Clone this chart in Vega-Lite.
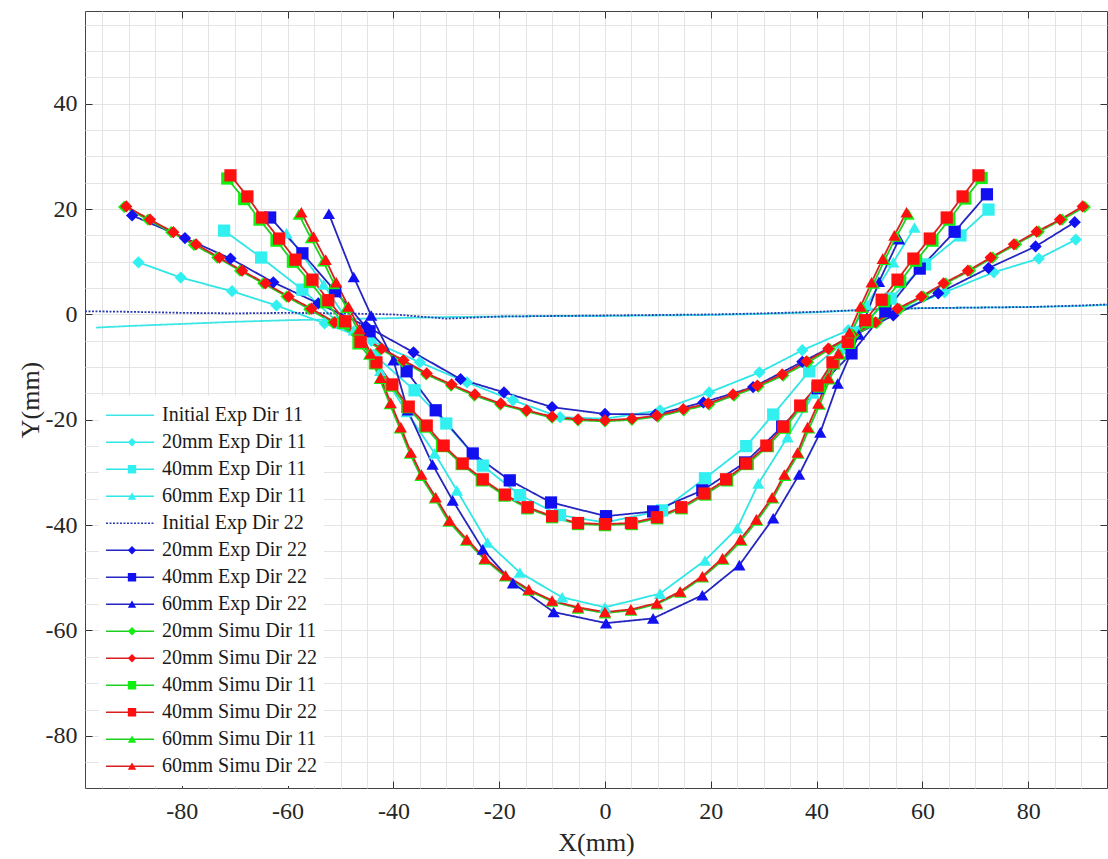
{
 "$schema": "https://vega.github.io/schema/vega-lite/v6.json",
 "width": 1022, "height": 777,
 "autosize": {"type": "none"},
 "padding": {"left": 85, "top": 11, "right": 1, "bottom": 71},
 "background": "white",
 "config": {"view": {"stroke": "#444", "strokeWidth": 1}, "font": "Liberation Serif",
   "axis": {"labelFont": "Liberation Serif", "titleFont": "Liberation Serif", "labelColor": "#262626", "titleColor": "#262626", "titleFontWeight": "normal", "labelFontSize": 24, "titleFontSize": 26, "labelOverlap": false, "labelFlush": false, "tickColor": "#333", "domainColor": "#444"},
   "legend": {"labelFont": "Liberation Serif"}},
 "data": {"name": "d"},
 "datasets": {"d": [
  {"series":"Initial Exp Dir 11","x":-96.2,"y":-2.5},{"series":"Initial Exp Dir 11","x":-90,"y":-2.2},{"series":"Initial Exp Dir 11","x":-80,"y":-1.8},{"series":"Initial Exp Dir 11","x":-70,"y":-1.4},{"series":"Initial Exp Dir 11","x":-60,"y":-1.1},{"series":"Initial Exp Dir 11","x":-50,"y":-0.9},{"series":"Initial Exp Dir 11","x":-40,"y":-0.7},{"series":"Initial Exp Dir 11","x":-30,"y":-0.5},{"series":"Initial Exp Dir 11","x":-20,"y":-0.4},{"series":"Initial Exp Dir 11","x":-10,"y":-0.3},{"series":"Initial Exp Dir 11","x":0,"y":-0.3},{"series":"Initial Exp Dir 11","x":10,"y":-0.2},{"series":"Initial Exp Dir 11","x":20,"y":-0.1},{"series":"Initial Exp Dir 11","x":30,"y":0.1},{"series":"Initial Exp Dir 11","x":40,"y":0.4},{"series":"Initial Exp Dir 11","x":50,"y":0.9},{"series":"Initial Exp Dir 11","x":60,"y":1.2},{"series":"Initial Exp Dir 11","x":70,"y":1.3},{"series":"Initial Exp Dir 11","x":80,"y":1.4},{"series":"Initial Exp Dir 11","x":90,"y":1.6},{"series":"Initial Exp Dir 11","x":94.9,"y":1.8},

  {"series":"20mm Exp Dir 11","x":-88.2,"y":9.9},{"series":"20mm Exp Dir 11","x":-80.2,"y":7.0},{"series":"20mm Exp Dir 11","x":-70.5,"y":4.4},{"series":"20mm Exp Dir 11","x":-62.1,"y":1.7},{"series":"20mm Exp Dir 11","x":-53.0,"y":-1.7},{"series":"20mm Exp Dir 11","x":-44.2,"y":-5.0},{"series":"20mm Exp Dir 11","x":-35.0,"y":-9.1},{"series":"20mm Exp Dir 11","x":-26.1,"y":-12.9},{"series":"20mm Exp Dir 11","x":-17.4,"y":-16.3},{"series":"20mm Exp Dir 11","x":-8.5,"y":-19.5},{"series":"20mm Exp Dir 11","x":0,"y":-19.8},{"series":"20mm Exp Dir 11","x":10.4,"y":-18.2},{"series":"20mm Exp Dir 11","x":19.7,"y":-14.8},{"series":"20mm Exp Dir 11","x":29.2,"y":-11.0},{"series":"20mm Exp Dir 11","x":37.3,"y":-6.8},{"series":"20mm Exp Dir 11","x":46.0,"y":-3.0},{"series":"20mm Exp Dir 11","x":55.0,"y":0.5},{"series":"20mm Exp Dir 11","x":64.2,"y":4.2},{"series":"20mm Exp Dir 11","x":73.5,"y":8.0},{"series":"20mm Exp Dir 11","x":82.0,"y":10.6},{"series":"20mm Exp Dir 11","x":89.0,"y":14.2},

  {"series":"40mm Exp Dir 11","x":-72.0,"y":15.9},{"series":"40mm Exp Dir 11","x":-65.0,"y":10.8},{"series":"40mm Exp Dir 11","x":-57.2,"y":4.7},{"series":"40mm Exp Dir 11","x":-50.5,"y":-1.5},{"series":"40mm Exp Dir 11","x":-43.5,"y":-7.8},{"series":"40mm Exp Dir 11","x":-36.0,"y":-14.4},{"series":"40mm Exp Dir 11","x":-30.0,"y":-20.7},{"series":"40mm Exp Dir 11","x":-23.1,"y":-28.7},{"series":"40mm Exp Dir 11","x":-16.1,"y":-34.3},{"series":"40mm Exp Dir 11","x":-8.5,"y":-38.1},{"series":"40mm Exp Dir 11","x":0,"y":-39.5},{"series":"40mm Exp Dir 11","x":10.8,"y":-37.2},{"series":"40mm Exp Dir 11","x":18.9,"y":-31.1},{"series":"40mm Exp Dir 11","x":26.7,"y":-25.0},{"series":"40mm Exp Dir 11","x":31.8,"y":-19.0},{"series":"40mm Exp Dir 11","x":38.6,"y":-10.8},{"series":"40mm Exp Dir 11","x":47.0,"y":-3.5},{"series":"40mm Exp Dir 11","x":54.0,"y":3.0},{"series":"40mm Exp Dir 11","x":60.5,"y":9.5},{"series":"40mm Exp Dir 11","x":67.2,"y":15.0},{"series":"40mm Exp Dir 11","x":72.5,"y":19.9},

  {"series":"60mm Exp Dir 11","x":-60.2,"y":15.4},{"series":"60mm Exp Dir 11","x":-53.2,"y":5.7},{"series":"60mm Exp Dir 11","x":-47.5,"y":-3.0},{"series":"60mm Exp Dir 11","x":-42.5,"y":-10.7},{"series":"60mm Exp Dir 11","x":-37.5,"y":-18.5},{"series":"60mm Exp Dir 11","x":-32.2,"y":-26.4},{"series":"60mm Exp Dir 11","x":-28.0,"y":-33.4},{"series":"60mm Exp Dir 11","x":-22.2,"y":-43.3},{"series":"60mm Exp Dir 11","x":-16.1,"y":-49.0},{"series":"60mm Exp Dir 11","x":-8.1,"y":-53.7},{"series":"60mm Exp Dir 11","x":0,"y":-55.6},{"series":"60mm Exp Dir 11","x":10.4,"y":-53.0},{"series":"60mm Exp Dir 11","x":18.9,"y":-46.7},{"series":"60mm Exp Dir 11","x":25.0,"y":-40.6},{"series":"60mm Exp Dir 11","x":29.0,"y":-32.1},{"series":"60mm Exp Dir 11","x":34.5,"y":-23.3},{"series":"60mm Exp Dir 11","x":39.5,"y":-15.0},{"series":"60mm Exp Dir 11","x":44.5,"y":-6.5},{"series":"60mm Exp Dir 11","x":49.5,"y":1.8},{"series":"60mm Exp Dir 11","x":54.5,"y":9.9},{"series":"60mm Exp Dir 11","x":58.5,"y":16.5},

  {"series":"Initial Exp Dir 22","x":-98.3,"y":0.6},{"series":"Initial Exp Dir 22","x":-90,"y":0.5},{"series":"Initial Exp Dir 22","x":-80,"y":0.3},{"series":"Initial Exp Dir 22","x":-70,"y":0.2},{"series":"Initial Exp Dir 22","x":-60,"y":0.3},{"series":"Initial Exp Dir 22","x":-50,"y":0.2},{"series":"Initial Exp Dir 22","x":-40,"y":0.0},{"series":"Initial Exp Dir 22","x":-35,"y":-0.4},{"series":"Initial Exp Dir 22","x":-30,"y":-0.8},{"series":"Initial Exp Dir 22","x":-25,"y":-0.6},{"series":"Initial Exp Dir 22","x":-20,"y":-0.4},{"series":"Initial Exp Dir 22","x":-10,"y":-0.3},{"series":"Initial Exp Dir 22","x":0,"y":-0.2},{"series":"Initial Exp Dir 22","x":10,"y":-0.1},{"series":"Initial Exp Dir 22","x":20,"y":0.0},{"series":"Initial Exp Dir 22","x":30,"y":0.2},{"series":"Initial Exp Dir 22","x":40,"y":0.5},{"series":"Initial Exp Dir 22","x":50,"y":0.9},{"series":"Initial Exp Dir 22","x":60,"y":1.2},{"series":"Initial Exp Dir 22","x":70,"y":1.3},{"series":"Initial Exp Dir 22","x":80,"y":1.4},{"series":"Initial Exp Dir 22","x":90,"y":1.7},{"series":"Initial Exp Dir 22","x":94.9,"y":1.9},

  {"series":"20mm Exp Dir 22","x":-89.4,"y":18.8},{"series":"20mm Exp Dir 22","x":-79.4,"y":14.5},{"series":"20mm Exp Dir 22","x":-70.8,"y":10.6},{"series":"20mm Exp Dir 22","x":-62.7,"y":6.1},{"series":"20mm Exp Dir 22","x":-54.2,"y":2.1},{"series":"20mm Exp Dir 22","x":-45.2,"y":-2.2},{"series":"20mm Exp Dir 22","x":-36.2,"y":-7.2},{"series":"20mm Exp Dir 22","x":-27.3,"y":-12.3},{"series":"20mm Exp Dir 22","x":-19.1,"y":-14.8},{"series":"20mm Exp Dir 22","x":-10.0,"y":-17.6},{"series":"20mm Exp Dir 22","x":0,"y":-18.9},{"series":"20mm Exp Dir 22","x":9.5,"y":-19.0},{"series":"20mm Exp Dir 22","x":18.6,"y":-16.7},{"series":"20mm Exp Dir 22","x":28.0,"y":-13.8},{"series":"20mm Exp Dir 22","x":37.3,"y":-9.0},{"series":"20mm Exp Dir 22","x":46.0,"y":-4.5},{"series":"20mm Exp Dir 22","x":54.5,"y":-0.2},{"series":"20mm Exp Dir 22","x":63.0,"y":4.0},{"series":"20mm Exp Dir 22","x":72.5,"y":8.8},{"series":"20mm Exp Dir 22","x":81.4,"y":12.9},{"series":"20mm Exp Dir 22","x":88.8,"y":17.5},

  {"series":"40mm Exp Dir 22","x":-63.3,"y":18.4},{"series":"40mm Exp Dir 22","x":-57.2,"y":11.6},{"series":"40mm Exp Dir 22","x":-51.0,"y":4.4},{"series":"40mm Exp Dir 22","x":-44.5,"y":-3.2},{"series":"40mm Exp Dir 22","x":-37.5,"y":-10.8},{"series":"40mm Exp Dir 22","x":-32.0,"y":-18.2},{"series":"40mm Exp Dir 22","x":-25.0,"y":-26.4},{"series":"40mm Exp Dir 22","x":-18.0,"y":-31.5},{"series":"40mm Exp Dir 22","x":-10.2,"y":-35.7},{"series":"40mm Exp Dir 22","x":0.2,"y":-38.3},{"series":"40mm Exp Dir 22","x":9.1,"y":-37.4},{"series":"40mm Exp Dir 22","x":18.4,"y":-33.4},{"series":"40mm Exp Dir 22","x":26.5,"y":-28.1},{"series":"40mm Exp Dir 22","x":33.5,"y":-21.3},{"series":"40mm Exp Dir 22","x":40.2,"y":-14.0},{"series":"40mm Exp Dir 22","x":46.6,"y":-7.4},{"series":"40mm Exp Dir 22","x":53.0,"y":0.6},{"series":"40mm Exp Dir 22","x":59.5,"y":8.7},{"series":"40mm Exp Dir 22","x":66.1,"y":15.7},{"series":"40mm Exp Dir 22","x":72.2,"y":22.8},

  {"series":"60mm Exp Dir 22","x":-52.2,"y":19.1},{"series":"60mm Exp Dir 22","x":-47.5,"y":7.1},{"series":"60mm Exp Dir 22","x":-44.2,"y":-0.2},{"series":"60mm Exp Dir 22","x":-40.0,"y":-8.7},{"series":"60mm Exp Dir 22","x":-37.3,"y":-18.2},{"series":"60mm Exp Dir 22","x":-32.6,"y":-28.5},{"series":"60mm Exp Dir 22","x":-28.8,"y":-35.3},{"series":"60mm Exp Dir 22","x":-23.1,"y":-44.6},{"series":"60mm Exp Dir 22","x":-17.4,"y":-51.0},{"series":"60mm Exp Dir 22","x":-9.7,"y":-56.5},{"series":"60mm Exp Dir 22","x":0.2,"y":-58.6},{"series":"60mm Exp Dir 22","x":9.1,"y":-57.7},{"series":"60mm Exp Dir 22","x":18.4,"y":-53.3},{"series":"60mm Exp Dir 22","x":25.4,"y":-47.6},{"series":"60mm Exp Dir 22","x":31.8,"y":-38.7},{"series":"60mm Exp Dir 22","x":36.7,"y":-30.4},{"series":"60mm Exp Dir 22","x":40.7,"y":-22.4},{"series":"60mm Exp Dir 22","x":44.0,"y":-13.1},{"series":"60mm Exp Dir 22","x":48.0,"y":-3.8},{"series":"60mm Exp Dir 22","x":51.8,"y":6.2},{"series":"60mm Exp Dir 22","x":55.6,"y":14.3},

  {"series":"20mm Simu Dir 11","x":-90.9,"y":20.4},{"series":"20mm Simu Dir 11","x":-86.4,"y":18.0},{"series":"20mm Simu Dir 11","x":-82.0,"y":15.6},{"series":"20mm Simu Dir 11","x":-77.7,"y":13.2},{"series":"20mm Simu Dir 11","x":-73.3,"y":10.8},{"series":"20mm Simu Dir 11","x":-69.0,"y":8.3},{"series":"20mm Simu Dir 11","x":-64.6,"y":5.9},{"series":"20mm Simu Dir 11","x":-60.2,"y":3.4},{"series":"20mm Simu Dir 11","x":-55.9,"y":1.0},{"series":"20mm Simu Dir 11","x":-51.4,"y":-1.6},{"series":"20mm Simu Dir 11","x":-46.9,"y":-3.9},{"series":"20mm Simu Dir 11","x":-42.4,"y":-6.6},{"series":"20mm Simu Dir 11","x":-38.3,"y":-8.9},{"series":"20mm Simu Dir 11","x":-33.8,"y":-11.4},{"series":"20mm Simu Dir 11","x":-29.1,"y":-13.5},{"series":"20mm Simu Dir 11","x":-24.7,"y":-15.4},{"series":"20mm Simu Dir 11","x":-19.8,"y":-17.1},{"series":"20mm Simu Dir 11","x":-14.9,"y":-18.4},{"series":"20mm Simu Dir 11","x":-10.0,"y":-19.6},{"series":"20mm Simu Dir 11","x":-5.1,"y":-20.1},{"series":"20mm Simu Dir 11","x":0,"y":-20.3},{"series":"20mm Simu Dir 11","x":5.1,"y":-20.0},{"series":"20mm Simu Dir 11","x":10.0,"y":-19.4},{"series":"20mm Simu Dir 11","x":14.9,"y":-18.2},{"series":"20mm Simu Dir 11","x":19.7,"y":-17.1},{"series":"20mm Simu Dir 11","x":24.4,"y":-15.4},{"series":"20mm Simu Dir 11","x":29.0,"y":-13.7},{"series":"20mm Simu Dir 11","x":33.7,"y":-11.6},{"series":"20mm Simu Dir 11","x":38.4,"y":-9.1},{"series":"20mm Simu Dir 11","x":42.5,"y":-6.6},{"series":"20mm Simu Dir 11","x":47.0,"y":-4.0},{"series":"20mm Simu Dir 11","x":51.4,"y":-1.6},{"series":"20mm Simu Dir 11","x":55.7,"y":1.0},{"series":"20mm Simu Dir 11","x":60.2,"y":3.4},{"series":"20mm Simu Dir 11","x":64.4,"y":5.9},{"series":"20mm Simu Dir 11","x":69.0,"y":8.3},{"series":"20mm Simu Dir 11","x":73.3,"y":10.8},{"series":"20mm Simu Dir 11","x":77.7,"y":13.3},{"series":"20mm Simu Dir 11","x":82.0,"y":15.7},{"series":"20mm Simu Dir 11","x":86.4,"y":18.0},{"series":"20mm Simu Dir 11","x":90.7,"y":20.4},

  {"series":"20mm Simu Dir 22","x":-90.5,"y":20.5},{"series":"20mm Simu Dir 22","x":-86.0,"y":18.0},{"series":"20mm Simu Dir 22","x":-81.6,"y":15.6},{"series":"20mm Simu Dir 22","x":-77.3,"y":13.3},{"series":"20mm Simu Dir 22","x":-72.9,"y":10.8},{"series":"20mm Simu Dir 22","x":-68.6,"y":8.3},{"series":"20mm Simu Dir 22","x":-64.2,"y":5.9},{"series":"20mm Simu Dir 22","x":-59.8,"y":3.4},{"series":"20mm Simu Dir 22","x":-55.5,"y":1.1},{"series":"20mm Simu Dir 22","x":-51.1,"y":-1.5},{"series":"20mm Simu Dir 22","x":-46.6,"y":-3.8},{"series":"20mm Simu Dir 22","x":-42.2,"y":-6.5},{"series":"20mm Simu Dir 22","x":-38.1,"y":-8.7},{"series":"20mm Simu Dir 22","x":-33.7,"y":-11.2},{"series":"20mm Simu Dir 22","x":-29.0,"y":-13.3},{"series":"20mm Simu Dir 22","x":-24.6,"y":-15.2},{"series":"20mm Simu Dir 22","x":-19.7,"y":-16.9},{"series":"20mm Simu Dir 22","x":-14.8,"y":-18.2},{"series":"20mm Simu Dir 22","x":-10.0,"y":-19.4},{"series":"20mm Simu Dir 22","x":-5.1,"y":-19.9},{"series":"20mm Simu Dir 22","x":0,"y":-20.1},{"series":"20mm Simu Dir 22","x":5.1,"y":-19.8},{"series":"20mm Simu Dir 22","x":9.8,"y":-19.2},{"series":"20mm Simu Dir 22","x":14.8,"y":-18.0},{"series":"20mm Simu Dir 22","x":19.5,"y":-16.9},{"series":"20mm Simu Dir 22","x":24.2,"y":-15.2},{"series":"20mm Simu Dir 22","x":28.8,"y":-13.5},{"series":"20mm Simu Dir 22","x":33.5,"y":-11.4},{"series":"20mm Simu Dir 22","x":38.1,"y":-8.9},{"series":"20mm Simu Dir 22","x":42.2,"y":-6.5},{"series":"20mm Simu Dir 22","x":46.7,"y":-3.9},{"series":"20mm Simu Dir 22","x":51.1,"y":-1.5},{"series":"20mm Simu Dir 22","x":55.3,"y":1.1},{"series":"20mm Simu Dir 22","x":59.8,"y":3.4},{"series":"20mm Simu Dir 22","x":64.0,"y":5.9},{"series":"20mm Simu Dir 22","x":68.6,"y":8.3},{"series":"20mm Simu Dir 22","x":72.9,"y":10.8},{"series":"20mm Simu Dir 22","x":77.3,"y":13.3},{"series":"20mm Simu Dir 22","x":81.6,"y":15.7},{"series":"20mm Simu Dir 22","x":86.0,"y":18.0},{"series":"20mm Simu Dir 22","x":90.3,"y":20.5},

  {"series":"40mm Simu Dir 11","x":-71.4,"y":25.8},{"series":"40mm Simu Dir 11","x":-68.2,"y":21.9},{"series":"40mm Simu Dir 11","x":-65.3,"y":18.0},{"series":"40mm Simu Dir 11","x":-62.1,"y":14.0},{"series":"40mm Simu Dir 11","x":-59.0,"y":10.0},{"series":"40mm Simu Dir 11","x":-55.8,"y":6.2},{"series":"40mm Simu Dir 11","x":-52.7,"y":2.3},{"series":"40mm Simu Dir 11","x":-49.5,"y":-1.6},{"series":"40mm Simu Dir 11","x":-46.6,"y":-5.5},{"series":"40mm Simu Dir 11","x":-43.5,"y":-9.3},{"series":"40mm Simu Dir 11","x":-40.5,"y":-13.5},{"series":"40mm Simu Dir 11","x":-37.4,"y":-17.6},{"series":"40mm Simu Dir 11","x":-34.0,"y":-21.3},{"series":"40mm Simu Dir 11","x":-30.8,"y":-25.0},{"series":"40mm Simu Dir 11","x":-27.1,"y":-28.4},{"series":"40mm Simu Dir 11","x":-23.3,"y":-31.5},{"series":"40mm Simu Dir 11","x":-19.0,"y":-34.4},{"series":"40mm Simu Dir 11","x":-14.7,"y":-36.8},{"series":"40mm Simu Dir 11","x":-10.0,"y":-38.5},{"series":"40mm Simu Dir 11","x":-5.1,"y":-39.8},{"series":"40mm Simu Dir 11","x":0,"y":-40.0},{"series":"40mm Simu Dir 11","x":5.1,"y":-39.8},{"series":"40mm Simu Dir 11","x":9.9,"y":-38.7},{"series":"40mm Simu Dir 11","x":14.5,"y":-36.8},{"series":"40mm Simu Dir 11","x":19.0,"y":-34.2},{"series":"40mm Simu Dir 11","x":23.1,"y":-31.5},{"series":"40mm Simu Dir 11","x":27.0,"y":-28.4},{"series":"40mm Simu Dir 11","x":30.8,"y":-25.0},{"series":"40mm Simu Dir 11","x":34.0,"y":-21.5},{"series":"40mm Simu Dir 11","x":37.2,"y":-17.5},{"series":"40mm Simu Dir 11","x":40.5,"y":-13.7},{"series":"40mm Simu Dir 11","x":43.3,"y":-9.3},{"series":"40mm Simu Dir 11","x":46.2,"y":-5.4},{"series":"40mm Simu Dir 11","x":49.6,"y":-1.4},{"series":"40mm Simu Dir 11","x":52.8,"y":2.5},{"series":"40mm Simu Dir 11","x":55.8,"y":6.2},{"series":"40mm Simu Dir 11","x":58.8,"y":10.2},{"series":"40mm Simu Dir 11","x":61.9,"y":14.0},{"series":"40mm Simu Dir 11","x":65.1,"y":18.0},{"series":"40mm Simu Dir 11","x":68.1,"y":22.0},{"series":"40mm Simu Dir 11","x":71.2,"y":25.9},

  {"series":"40mm Simu Dir 22","x":-70.8,"y":26.4},{"series":"40mm Simu Dir 22","x":-67.6,"y":22.4},{"series":"40mm Simu Dir 22","x":-64.8,"y":18.4},{"series":"40mm Simu Dir 22","x":-61.6,"y":14.4},{"series":"40mm Simu Dir 22","x":-58.5,"y":10.4},{"series":"40mm Simu Dir 22","x":-55.3,"y":6.6},{"series":"40mm Simu Dir 22","x":-52.3,"y":2.7},{"series":"40mm Simu Dir 22","x":-49.1,"y":-1.3},{"series":"40mm Simu Dir 22","x":-46.2,"y":-5.2},{"series":"40mm Simu Dir 22","x":-43.2,"y":-9.1},{"series":"40mm Simu Dir 22","x":-40.2,"y":-13.3},{"series":"40mm Simu Dir 22","x":-37.1,"y":-17.5},{"series":"40mm Simu Dir 22","x":-33.7,"y":-21.1},{"series":"40mm Simu Dir 22","x":-30.5,"y":-24.9},{"series":"40mm Simu Dir 22","x":-26.9,"y":-28.3},{"series":"40mm Simu Dir 22","x":-23.1,"y":-31.3},{"series":"40mm Simu Dir 22","x":-18.9,"y":-34.2},{"series":"40mm Simu Dir 22","x":-14.6,"y":-36.6},{"series":"40mm Simu Dir 22","x":-10.0,"y":-38.3},{"series":"40mm Simu Dir 22","x":-5.1,"y":-39.6},{"series":"40mm Simu Dir 22","x":0,"y":-39.8},{"series":"40mm Simu Dir 22","x":4.9,"y":-39.6},{"series":"40mm Simu Dir 22","x":9.8,"y":-38.5},{"series":"40mm Simu Dir 22","x":14.4,"y":-36.6},{"series":"40mm Simu Dir 22","x":18.8,"y":-34.0},{"series":"40mm Simu Dir 22","x":22.9,"y":-31.3},{"series":"40mm Simu Dir 22","x":26.7,"y":-28.3},{"series":"40mm Simu Dir 22","x":30.5,"y":-24.9},{"series":"40mm Simu Dir 22","x":33.7,"y":-21.3},{"series":"40mm Simu Dir 22","x":36.9,"y":-17.3},{"series":"40mm Simu Dir 22","x":40.2,"y":-13.5},{"series":"40mm Simu Dir 22","x":43.0,"y":-9.1},{"series":"40mm Simu Dir 22","x":45.9,"y":-5.2},{"series":"40mm Simu Dir 22","x":49.2,"y":-1.1},{"series":"40mm Simu Dir 22","x":52.3,"y":2.8},{"series":"40mm Simu Dir 22","x":55.3,"y":6.6},{"series":"40mm Simu Dir 22","x":58.3,"y":10.6},{"series":"40mm Simu Dir 22","x":61.4,"y":14.4},{"series":"40mm Simu Dir 22","x":64.6,"y":18.4},{"series":"40mm Simu Dir 22","x":67.6,"y":22.4},{"series":"40mm Simu Dir 22","x":70.6,"y":26.4},

  {"series":"60mm Simu Dir 11","x":-57.9,"y":19.0},{"series":"60mm Simu Dir 11","x":-55.6,"y":14.5},{"series":"60mm Simu Dir 11","x":-53.3,"y":10.1},{"series":"60mm Simu Dir 11","x":-51.2,"y":5.8},{"series":"60mm Simu Dir 11","x":-48.9,"y":1.3},{"series":"60mm Simu Dir 11","x":-46.7,"y":-3.0},{"series":"60mm Simu Dir 11","x":-44.6,"y":-7.6},{"series":"60mm Simu Dir 11","x":-42.6,"y":-12.2},{"series":"60mm Simu Dir 11","x":-40.7,"y":-17.0},{"series":"60mm Simu Dir 11","x":-38.8,"y":-21.6},{"series":"60mm Simu Dir 11","x":-36.9,"y":-26.4},{"series":"60mm Simu Dir 11","x":-34.9,"y":-30.6},{"series":"60mm Simu Dir 11","x":-32.2,"y":-34.9},{"series":"60mm Simu Dir 11","x":-29.6,"y":-39.3},{"series":"60mm Simu Dir 11","x":-26.3,"y":-42.9},{"series":"60mm Simu Dir 11","x":-22.8,"y":-46.5},{"series":"60mm Simu Dir 11","x":-18.9,"y":-49.7},{"series":"60mm Simu Dir 11","x":-14.5,"y":-52.4},{"series":"60mm Simu Dir 11","x":-10.0,"y":-54.5},{"series":"60mm Simu Dir 11","x":-5.1,"y":-55.8},{"series":"60mm Simu Dir 11","x":0,"y":-56.7},{"series":"60mm Simu Dir 11","x":4.9,"y":-56.2},{"series":"60mm Simu Dir 11","x":9.8,"y":-55.0},{"series":"60mm Simu Dir 11","x":14.3,"y":-52.8},{"series":"60mm Simu Dir 11","x":18.5,"y":-49.9},{"series":"60mm Simu Dir 11","x":22.4,"y":-46.5},{"series":"60mm Simu Dir 11","x":25.8,"y":-42.9},{"series":"60mm Simu Dir 11","x":28.8,"y":-39.1},{"series":"60mm Simu Dir 11","x":31.8,"y":-34.9},{"series":"60mm Simu Dir 11","x":34.1,"y":-30.6},{"series":"60mm Simu Dir 11","x":36.6,"y":-26.4},{"series":"60mm Simu Dir 11","x":38.6,"y":-21.6},{"series":"60mm Simu Dir 11","x":40.6,"y":-17.1},{"series":"60mm Simu Dir 11","x":42.5,"y":-12.3},{"series":"60mm Simu Dir 11","x":44.5,"y":-7.6},{"series":"60mm Simu Dir 11","x":46.6,"y":-3.5},{"series":"60mm Simu Dir 11","x":48.7,"y":1.3},{"series":"60mm Simu Dir 11","x":50.8,"y":5.9},{"series":"60mm Simu Dir 11","x":52.9,"y":10.4},{"series":"60mm Simu Dir 11","x":55.1,"y":14.8},{"series":"60mm Simu Dir 11","x":57.4,"y":19.0},

  {"series":"60mm Simu Dir 22","x":-57.4,"y":19.4},{"series":"60mm Simu Dir 22","x":-55.1,"y":14.8},{"series":"60mm Simu Dir 22","x":-52.8,"y":10.4},{"series":"60mm Simu Dir 22","x":-50.8,"y":6.1},{"series":"60mm Simu Dir 22","x":-48.5,"y":1.5},{"series":"60mm Simu Dir 22","x":-46.4,"y":-2.8},{"series":"60mm Simu Dir 22","x":-44.3,"y":-7.4},{"series":"60mm Simu Dir 22","x":-42.4,"y":-12.0},{"series":"60mm Simu Dir 22","x":-40.5,"y":-16.8},{"series":"60mm Simu Dir 22","x":-38.6,"y":-21.4},{"series":"60mm Simu Dir 22","x":-36.7,"y":-26.2},{"series":"60mm Simu Dir 22","x":-34.7,"y":-30.4},{"series":"60mm Simu Dir 22","x":-32.0,"y":-34.7},{"series":"60mm Simu Dir 22","x":-29.4,"y":-39.1},{"series":"60mm Simu Dir 22","x":-26.1,"y":-42.7},{"series":"60mm Simu Dir 22","x":-22.7,"y":-46.3},{"series":"60mm Simu Dir 22","x":-18.8,"y":-49.5},{"series":"60mm Simu Dir 22","x":-14.4,"y":-52.2},{"series":"60mm Simu Dir 22","x":-10.0,"y":-54.3},{"series":"60mm Simu Dir 22","x":-5.1,"y":-55.6},{"series":"60mm Simu Dir 22","x":0,"y":-56.5},{"series":"60mm Simu Dir 22","x":4.9,"y":-56.0},{"series":"60mm Simu Dir 22","x":9.8,"y":-54.8},{"series":"60mm Simu Dir 22","x":14.2,"y":-52.6},{"series":"60mm Simu Dir 22","x":18.4,"y":-49.7},{"series":"60mm Simu Dir 22","x":22.2,"y":-46.3},{"series":"60mm Simu Dir 22","x":25.6,"y":-42.7},{"series":"60mm Simu Dir 22","x":28.6,"y":-38.9},{"series":"60mm Simu Dir 22","x":31.6,"y":-34.7},{"series":"60mm Simu Dir 22","x":33.9,"y":-30.4},{"series":"60mm Simu Dir 22","x":36.4,"y":-26.2},{"series":"60mm Simu Dir 22","x":38.3,"y":-21.4},{"series":"60mm Simu Dir 22","x":40.3,"y":-16.9},{"series":"60mm Simu Dir 22","x":42.2,"y":-12.1},{"series":"60mm Simu Dir 22","x":44.1,"y":-7.4},{"series":"60mm Simu Dir 22","x":46.2,"y":-3.4},{"series":"60mm Simu Dir 22","x":48.3,"y":1.5},{"series":"60mm Simu Dir 22","x":50.4,"y":6.1},{"series":"60mm Simu Dir 22","x":52.5,"y":10.6},{"series":"60mm Simu Dir 22","x":54.7,"y":15.0},{"series":"60mm Simu Dir 22","x":57.0,"y":19.4}
 ]},
 "resolve": {"axis": {"x": "independent", "y": "independent"}},
 "layer": [
  {
   "mark": {"type": "line", "strokeWidth": 1.8, "clip": true},
   "encoding": {
    "x": {"field": "x", "type": "quantitative", "scale": {"domain": [-98.3, 94.9], "nice": false, "zero": false},
      "axis": {"orient": "bottom", "values": [-95,-90,-85,-80,-75,-70,-65,-60,-55,-50,-45,-40,-35,-30,-25,-20,-15,-10,-5,0,5,10,15,20,25,30,35,40,45,50,55,60,65,70,75,80,85,90],
        "grid": true, "gridColor": "#e4e4e4", "gridWidth": 1, "domain": false,
        "labelFont": "Liberation Serif", "labelFontSize": 24, "titleFont": "Liberation Serif",
        "labelExpr": "datum.value % 20 === 0 ? '' + datum.value : ''",
        "tickOpacity": {"condition": {"test": "datum.value % 20 === 0", "value": 1}, "value": 0},
        "tickSize": -7, "labelPadding": 18, "title": "X(mm)", "titlePadding": 6,
        "encode": {"labels": {"update": {"font": {"value": "Liberation Serif"}}}}}},
    "y": {"field": "y", "type": "quantitative", "scale": {"domain": [-89.9, 57.6], "nice": false, "zero": false},
      "axis": {"orient": "left", "values": [-85,-80,-75,-70,-65,-60,-55,-50,-45,-40,-35,-30,-25,-20,-15,-10,-5,0,5,10,15,20,25,30,35,40,45,50,55],
        "grid": true, "gridColor": "#e4e4e4", "gridWidth": 1, "domain": false,
        "labelFont": "Liberation Serif", "labelFontSize": 24, "titleFont": "Liberation Serif",
        "labelExpr": "datum.value % 20 === 0 ? '' + datum.value : ''",
        "tickOpacity": {"condition": {"test": "datum.value % 20 === 0", "value": 1}, "value": 0},
        "tickSize": -7, "labelPadding": 15, "title": "Y(mm)", "titlePadding": 2,
        "encode": {"labels": {"update": {"font": {"value": "Liberation Serif"}}}}}},
    "color": {"field": "series", "type": "nominal",
      "scale": {"domain": ["Initial Exp Dir 11","20mm Exp Dir 11","40mm Exp Dir 11","60mm Exp Dir 11","Initial Exp Dir 22","20mm Exp Dir 22","40mm Exp Dir 22","60mm Exp Dir 22","20mm Simu Dir 11","20mm Simu Dir 22","40mm Simu Dir 11","40mm Simu Dir 22","60mm Simu Dir 11","60mm Simu Dir 22"],
        "range": ["#40e6e6","#2ee6e6","#2ee6e6","#2ee6e6","#2a3ab0","#2525c0","#2525c0","#2525c0","#20d020","#d82020","#20d020","#d82020","#20d020","#d82020"]},
      "legend": {"orient": "none", "legendX": 14, "legendY": 385, "direction": "vertical", "title": null, "symbolType": "stroke", "symbolSize": 2304, "symbolStrokeWidth": 1.6, "clipHeight": 26.4, "rowPadding": 0, "padding": 6, "fillColor": "white", "labelFont": "Liberation Serif", "labelFontSize": 20, "labelColor": "#1a1a1a", "labelOffset": 7, "labelLimit": 400}},
    "strokeDash": {"field": "series", "type": "nominal",
      "scale": {"domain": ["Initial Exp Dir 11","20mm Exp Dir 11","40mm Exp Dir 11","60mm Exp Dir 11","Initial Exp Dir 22","20mm Exp Dir 22","40mm Exp Dir 22","60mm Exp Dir 22","20mm Simu Dir 11","20mm Simu Dir 22","40mm Simu Dir 11","40mm Simu Dir 22","60mm Simu Dir 11","60mm Simu Dir 22"],
        "range": [[1,0],[1,0],[1,0],[1,0],[2,1.5],[1,0],[1,0],[1,0],[1,0],[1,0],[1,0],[1,0],[1,0],[1,0]]},
      "legend": {"orient": "none", "legendX": 14, "legendY": 385, "direction": "vertical", "title": null, "symbolType": "stroke", "symbolSize": 2304, "symbolStrokeWidth": 1.6, "clipHeight": 26.4, "rowPadding": 0, "padding": 6, "fillColor": "white", "labelFont": "Liberation Serif", "labelFontSize": 20, "labelColor": "#1a1a1a", "labelOffset": 7, "labelLimit": 400}}
   }
  },
  {
   "transform": [{"filter": "indexof(datum.series, 'Initial') < 0"}],
   "mark": {"type": "point", "filled": true, "size": 150, "opacity": 1, "clip": true},
   "encoding": {
    "x": {"field": "x", "type": "quantitative", "scale": {"domain": [-98.3, 94.9], "nice": false, "zero": false},
      "axis": {"orient": "top", "values": [-80,-60,-40,-20,0,20,40,60,80], "grid": false, "labels": false, "domain": false, "tickSize": -7, "title": null}},
    "y": {"field": "y", "type": "quantitative", "scale": {"domain": [-89.9, 57.6], "nice": false, "zero": false},
      "axis": {"orient": "right", "values": [-80,-60,-40,-20,0,20,40], "grid": false, "labels": false, "domain": false, "tickSize": -7, "title": null}},
    "fill": {"field": "series", "type": "nominal",
      "scale": {"domain": ["Initial Exp Dir 11","20mm Exp Dir 11","40mm Exp Dir 11","60mm Exp Dir 11","Initial Exp Dir 22","20mm Exp Dir 22","40mm Exp Dir 22","60mm Exp Dir 22","20mm Simu Dir 11","20mm Simu Dir 22","40mm Simu Dir 11","40mm Simu Dir 22","60mm Simu Dir 11","60mm Simu Dir 22","zz"],
        "range": ["transparent","#33f0f0","#33f0f0","#33f0f0","transparent","#1010f0","#1010f0","#1010f0","#10f010","#ff1010","#10f010","#ff1010","#10f010","#ff1010","transparent"]},
      "legend": {"orient": "none", "legendX": 31, "legendY": 385, "direction": "vertical", "title": null, "symbolSize": 70, "symbolStrokeWidth": 0, "clipHeight": 26.4, "rowPadding": 0, "padding": 6, "labelFontSize": 20, "labelExpr": "''", "labelOffset": 7}},
    "shape": {"field": "series", "type": "nominal",
      "scale": {"domain": ["Initial Exp Dir 11","20mm Exp Dir 11","40mm Exp Dir 11","60mm Exp Dir 11","Initial Exp Dir 22","20mm Exp Dir 22","40mm Exp Dir 22","60mm Exp Dir 22","20mm Simu Dir 11","20mm Simu Dir 22","40mm Simu Dir 11","40mm Simu Dir 22","60mm Simu Dir 11","60mm Simu Dir 22","zz"],
        "range": ["circle","diamond","square","triangle-up","circle","diamond","square","triangle-up","diamond","diamond","square","square","triangle-up","triangle-up","circle"]},
      "legend": {"orient": "none", "legendX": 31, "legendY": 385, "direction": "vertical", "title": null, "symbolSize": 70, "symbolStrokeWidth": 0, "clipHeight": 26.4, "rowPadding": 0, "padding": 6, "labelFontSize": 20, "labelExpr": "''", "labelOffset": 7}}
   }
  }
 ]
}
